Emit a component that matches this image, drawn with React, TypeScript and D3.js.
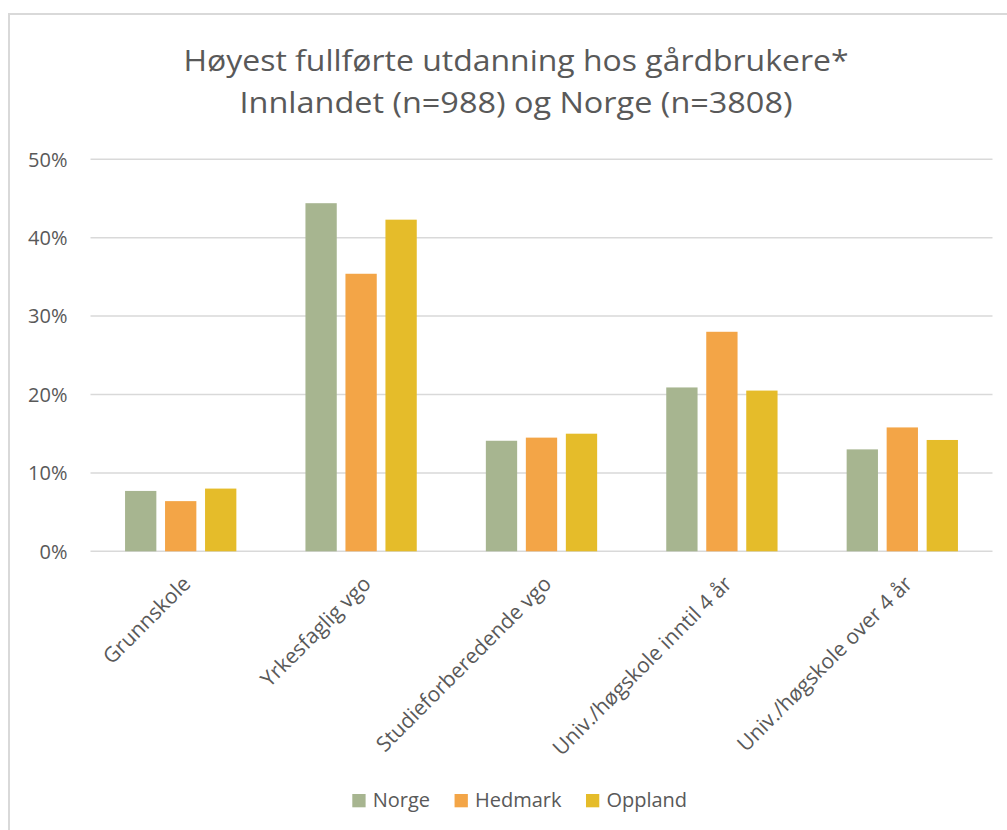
import React, { useEffect, useRef } from "react";
import * as d3 from "d3";

const categories = [
  "Grunnskole",
  "Yrkesfaglig vgo",
  "Studieforberedende vgo",
  "Univ./høgskole inntil 4 år",
  "Univ./høgskole over 4 år",
];
const seriesNames = ["Norge", "Hedmark", "Oppland"];
const norge = [0.077, 0.444, 0.141, 0.209, 0.13];
const hedmark = [0.064, 0.354, 0.145, 0.28, 0.158];
const oppland = [0.08, 0.423, 0.15, 0.205, 0.142];
const seriesColors = ["#A7B590", "#F3A547", "#E5BC2A"];
const yTicks = [0, 0.1, 0.2, 0.3, 0.4, 0.5];
const titleLines = [
  "Høyest fullførte utdanning hos gårdbrukere*",
  "Innlandet (n=988) og Norge (n=3808)",
];

const W = 1007;
const H = 830;
const FONT = "'Open Sans', 'DejaVu Sans', sans-serif";
const TEXT = "#595959";

export default function App() {
  const ref = useRef<SVGSVGElement | null>(null);

  useEffect(() => {
    const svg = d3.select(ref.current);
    svg.selectAll("*").remove();

    // chart border
    svg
      .append("rect")
      .attr("x", 9)
      .attr("y", 14)
      .attr("width", W + 20)
      .attr("height", H + 20)
      .attr("fill", "#fff")
      .attr("stroke", "#d9d9d9")
      .attr("stroke-width", 2);

    // title
    const titleWidths = [665, 553];
    const titleBase = [70.7, 112.7];
    titleLines.forEach((t, i) => {
      svg
        .append("text")
        .attr("x", 516)
        .attr("y", titleBase[i])
        .attr("text-anchor", "middle")
        .attr("font-family", FONT)
        .attr("font-size", 29)
        .attr("fill", TEXT)
        .attr("textLength", titleWidths[i])
        .attr("lengthAdjust", "spacingAndGlyphs")
        .text(t);
    });

    const left = 90.5;
    const right = 992.5;
    const y = d3.scaleLinear().domain([0, 0.5]).range([551.3, 159.3]);
    const x0 = d3.scaleBand<string>().domain(categories).range([left, right]);
    const groupW = 111.3;
    const x1 = d3
      .scaleBand<string>()
      .domain(seriesNames)
      .range([-groupW / 2, groupW / 2])
      .paddingInner(0.2174)
      .paddingOuter(0);

    // gridlines
    svg
      .append("g")
      .selectAll("line")
      .data(yTicks)
      .join("line")
      .attr("x1", left)
      .attr("x2", right)
      .attr("y1", (d) => y(d))
      .attr("y2", (d) => y(d))
      .attr("stroke", "#d9d9d9")
      .attr("stroke-width", 1.5);

    // y labels
    svg
      .append("g")
      .selectAll("text")
      .data(yTicks)
      .join("text")
      .attr("x", 67.5)
      .attr("y", (d) => y(d))
      .attr("dy", "0.36em")
      .attr("text-anchor", "end")
      .attr("font-family", FONT)
      .attr("font-size", 20)
      .attr("fill", TEXT)
      .text((d) => d3.format(".0%")(d));

    // bars
    const seriesData = [norge, hedmark, oppland];
    seriesData.forEach((vals, si) => {
      svg
        .append("g")
        .selectAll("rect")
        .data(vals)
        .join("rect")
        .attr(
          "x",
          (_d, i) =>
            (x0(categories[i]) as number) +
            x0.bandwidth() / 2 +
            (x1(seriesNames[si]) as number)
        )
        .attr("y", (d) => y(d))
        .attr("width", x1.bandwidth())
        .attr("height", (d) => y(0) - y(d))
        .attr("fill", seriesColors[si]);
    });

    // x labels
    svg
      .append("g")
      .selectAll("text")
      .data(categories)
      .join("text")
      .attr(
        "transform",
        (d) =>
          `translate(${(x0(d) as number) + x0.bandwidth() / 2 + 3},577) rotate(-45)`
      )
      .attr("dy", "0.55em")
      .attr("text-anchor", "end")
      .attr("font-family", FONT)
      .attr("font-size", 21)
      .attr("fill", TEXT)
      .text((d) => d);

    // legend
    const legend = svg.append("g");
    let cx = 352.3;
    seriesNames.forEach((name, i) => {
      legend
        .append("rect")
        .attr("x", cx)
        .attr("y", 794)
        .attr("width", 13.3)
        .attr("height", 13.3)
        .attr("fill", seriesColors[i]);
      const t = legend
        .append("text")
        .attr("x", cx + 20.4)
        .attr("y", 807)
        .attr("font-family", FONT)
        .attr("font-size", 20)
        .attr("fill", TEXT)
        .text(name);
      const w = (t.node() as SVGTextElement).getComputedTextLength();
      cx = cx + 20.4 + w + 24.5;
    });
  }, []);

  return (
    <div style={{ position: "absolute", left: 0, top: 0, width: W, height: H, overflow: "hidden" }}>
      <svg ref={ref} width={W} height={H} style={{ display: "block" }} />
    </div>
  );
}
